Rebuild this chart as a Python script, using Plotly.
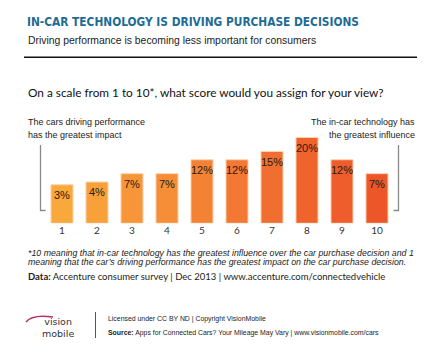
import plotly.graph_objects as go

W, H = 440, 352

scores = [1, 2, 3, 4, 5, 6, 7, 8, 9, 10]
shares = [3, 4, 7, 7, 12, 12, 15, 20, 12, 7]
labels = ["3%", "4%", "7%", "7%", "12%", "12%", "15%", "20%", "12%", "7%"]
tick_text = ["1", "2", "3", "4", "5", "6", "7", "8", "9", "10"]
bar_colors = ["#F9A83B", "#F8A03A", "#F69639", "#F58E37", "#F38235", "#F27833",
              "#F06E30", "#EF642D", "#EE5D2B", "#EC5628"]

title = "IN-CAR TECHNOLOGY IS DRIVING PURCHASE DECISIONS"
subtitle = "Driving performance is becoming less important for consumers"
question = "On a scale from 1 to 10*, what score would you assign for your view?"
left_note = ["The cars driving performance", "has the greatest impact"]
right_note = ["The in-car technology has", "the greatest influence"]
footnote = ["*10 meaning that in-car technology has the greatest influence over the car purchase decision and 1",
            "meaning that the car\u2019s driving performance has the greatest impact on the car purchase decision."]
data_line = "<b>Data:</b> Accenture consumer survey | Dec 2013 | www.accenture.com/connectedvehicle"
license_line = "Licensed under CC BY ND | Copyright VisionMobile"
source_line = "<b>Source:</b> Apps for Connected Cars? Your Mileage May Vary | www.visionmobile.com/cars"

BASE = -10.86
Y_TOP = 22.7

NARROW = "DejaVu Sans Condensed, Liberation Sans, sans-serif"
SANS = "Liberation Sans, Arial, sans-serif"


def px(x):
    return x / W


def py(y):
    return 1 - y / H


fig = go.Figure()
fig.add_trace(go.Bar(
    x=scores,
    y=[s - BASE for s in shares],
    base=BASE,
    marker=dict(color=bar_colors, line=dict(color="#FBD3B0", width=1)),
    width=0.63,
    hoverinfo="skip",
))

ann = []
for sc, sh, lb in zip(scores, shares, labels):
    ann.append(dict(x=sc, y=sh, xref="x", yref="y", text=lb, showarrow=False,
                    xanchor="center", yanchor="middle", yshift=-10.5,
                    font=dict(family=SANS, size=11, color="#2a1a0e")))


def text(x, y, t, size, color="#222", family=SANS, anchor="left", **kw):
    ann.append(dict(x=px(x), y=py(y), xref="paper", yref="paper", text=t, showarrow=False,
                    xanchor=anchor, yanchor="middle",
                    font=dict(family=family, size=size, color=color, **kw)))


text(25, 22, "<b>" + title + "</b>", 11.8, color="#1E6C94", family=NARROW)
text(26, 40, subtitle, 10.4, color="#222")
text(26, 92, question, 11.8, color="#111", family="Lato, sans-serif")
text(26, 122, left_note[0], 9.0, family=SANS)
text(26, 134.5, left_note[1], 9.0, family=SANS)
text(417, 122, right_note[0], 9.0, family=SANS, anchor="right")
text(417, 134.5, right_note[1], 9.0, family=SANS, anchor="right")
text(26, 252.5, footnote[0], 8.8, color="#222", style="italic")
text(26, 261.5, footnote[1], 8.8, color="#222", style="italic")
text(26, 276, data_line, 9.5, color="#222", family="Lato, sans-serif")
text(106, 319, license_line, 6.9, color="#222", family=SANS)
text(106, 333, source_line, 6.9, color="#222", family=SANS)
text(58, 327.5, "vision<br>mobile", 9.5, color="#333", family="DejaVu Sans, sans-serif", anchor="center")

shapes = [
    dict(type="line", xref="paper", yref="paper", x0=px(24), x1=px(417), y0=py(57.3), y1=py(57.3),
         line=dict(color="#111", width=1.5)),
    dict(type="path", xref="paper", yref="paper",
         path=f"M {px(40.5)} {py(145)} L {px(40.5)} {py(210.5)} L {px(45.5)} {py(210.5)}",
         line=dict(color="#8a8a8a", width=1.3)),
    dict(type="path", xref="paper", yref="paper",
         path=f"M {px(398.5)} {py(145)} L {px(398.5)} {py(210.5)} L {px(393.5)} {py(210.5)}",
         line=dict(color="#8a8a8a", width=1.3)),
    dict(type="line", xref="paper", yref="paper", x0=px(95.5), x1=px(95.5), y0=py(312), y1=py(338),
         line=dict(color="#555", width=1)),
    dict(type="path", xref="paper", yref="paper",
         path=f"M {px(26)} {py(322)} Q {px(32)} {py(314)} {px(53)} {py(317)}",
         line=dict(color="#B8336A", width=1.5)),
]

fig.update_layout(
    width=W, height=H,
    margin=dict(l=0, r=0, t=0, b=0),
    paper_bgcolor="white", plot_bgcolor="white",
    showlegend=False,
    xaxis=dict(domain=[px(44.5), px(394.5)], range=[0.5, 10.5], tickmode="array",
               tickvals=scores, ticktext=tick_text, showgrid=False, zeroline=False,
               showline=False, ticks="", tickfont=dict(family="Lato, sans-serif", size=10, color="#333")),
    yaxis=dict(domain=[py(223.3), py(130)], range=[BASE, Y_TOP], visible=False),
    annotations=ann,
    shapes=shapes,
)

fig.write_html("out.html")
